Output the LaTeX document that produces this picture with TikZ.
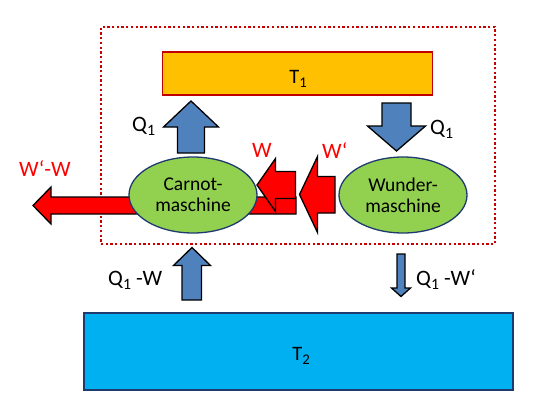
\documentclass[tikz,border=0pt]{standalone}
\usepackage{fontspec}
\usepackage{graphicx}
\setmainfont{Carlito}
\usetikzlibrary{shapes.geometric}
\definecolor{hotfill}{HTML}{FFC000}
\definecolor{hotline}{HTML}{C00000}
\definecolor{coldfill}{HTML}{00B0F0}
\definecolor{navy}{HTML}{1F3A6E}
\definecolor{machfill}{HTML}{92D050}
\definecolor{heatblue}{HTML}{4F81BD}
\definecolor{workred}{HTML}{FF0000}
\definecolor{dotred}{HTML}{C80000}
\newcommand\subidx[1]{\raisebox{-0.22em}{\scalebox{0.72}{#1}}}
\begin{document}
\begin{tikzpicture}[x=1pt,y=-1pt,
  reservoir/.style={draw, rectangle, inner sep=0pt, line width=1.8pt},
  machine/.style={draw=navy, fill=machfill, ellipse, line width=1.3pt, inner sep=0pt,
     minimum width=128pt, minimum height=76pt, align=center, font=\fontsize{19.5}{21}\selectfont},
  heatarrow/.style={draw=black, fill=heatblue, line width=1.3pt, line join=miter},
  workarrow/.style={draw=black, fill=workred, line width=1.3pt, line join=miter},
  lbl/.style={inner sep=0pt, anchor=base west, font=\fontsize{22}{26}\selectfont},
  wlbl/.style={lbl, text=workred},
  tlbl/.style={inner sep=0pt, anchor=base, font=\fontsize{20.5}{24}\selectfont}]
\useasboundingbox (0,0) rectangle (557,410);
% system boundary
\node[draw=dotred, line width=2.2pt, dash pattern=on 2.3pt off 2.4pt, rectangle,
      minimum width=394pt, minimum height=217pt, inner sep=0pt] (sys) at (298,135.5) {};
% reservoirs
\node[reservoir, draw=hotline, fill=hotfill, minimum width=270pt, minimum height=43pt] (T1) at (297.5,73.5) {};
\node[reservoir, draw=navy, fill=coldfill, minimum width=429pt, minimum height=77pt] (T2) at (298.5,351.5) {};
\node[tlbl] (t1lab) at (298,83) {T\subidx{1}};
\node[tlbl] (t2lab) at (301,360) {T\subidx{2}};
% big work arrow W'-W
\draw[workarrow] (296,197) -- (51,197) -- (51,187) -- (33,205.5) -- (51,224) -- (51,214) -- (296,214) -- cycle;
% machines
\node[machine] (carnot) at (193,195) {Carnot-\\maschine};
\node[machine] (wunder) at (403,195) {Wunder-\\maschine};
% W arrow
\draw[workarrow] (295.5,171.5) -- (275.5,171.5) -- (275.5,158.5) -- (257,185) -- (275.5,211.5) -- (275.5,198.5) -- (295.5,198.5) -- cycle;
% W' arrow
\draw[workarrow] (335,176.5) -- (317.5,176.5) -- (317.5,156.5) -- (299.5,194.5) -- (317.5,232.5) -- (317.5,213) -- (335,213) -- cycle;
% Q1 up (Carnot -> T1)
\draw[heatarrow] (177.5,153) -- (177.5,127) -- (163.5,127) -- (191,101) -- (218.5,127) -- (204.5,127) -- (204.5,153) -- cycle;
% Q1 down (T1 -> Wunder)
\draw[heatarrow] (382,103) -- (411,103) -- (411,126) -- (425.5,126) -- (396.5,151) -- (367.5,126) -- (382,126) -- cycle;
% Q1-W up (T2 -> Carnot)
\draw[heatarrow] (182,300) -- (182,265.5) -- (173.5,265.5) -- (192,247.5) -- (210.5,265.5) -- (201.5,265.5) -- (201.5,300) -- cycle;
% Q1-W' down (Wunder -> T2)
\draw[heatarrow] (397,254) -- (405,254) -- (405,288) -- (410.5,288) -- (401,296.5) -- (391.5,288) -- (397,288) -- cycle;
% labels
\node[lbl] (lq1a) at (132,131) {Q\subidx{1}};
\node[lbl] (lq1b) at (430,134) {Q\subidx{1}};
\node[wlbl] (lw) at (252,157) {W};
\node[wlbl] (lwp) at (322,158) {W‘};
\node[wlbl] (lwd) at (19,176) {W‘-W};
\node[lbl] (lqw) at (108,285) {Q\subidx{1} -W};
\node[lbl] (lqwp) at (416,285) {Q\subidx{1} -W‘};
\end{tikzpicture}
\end{document}
